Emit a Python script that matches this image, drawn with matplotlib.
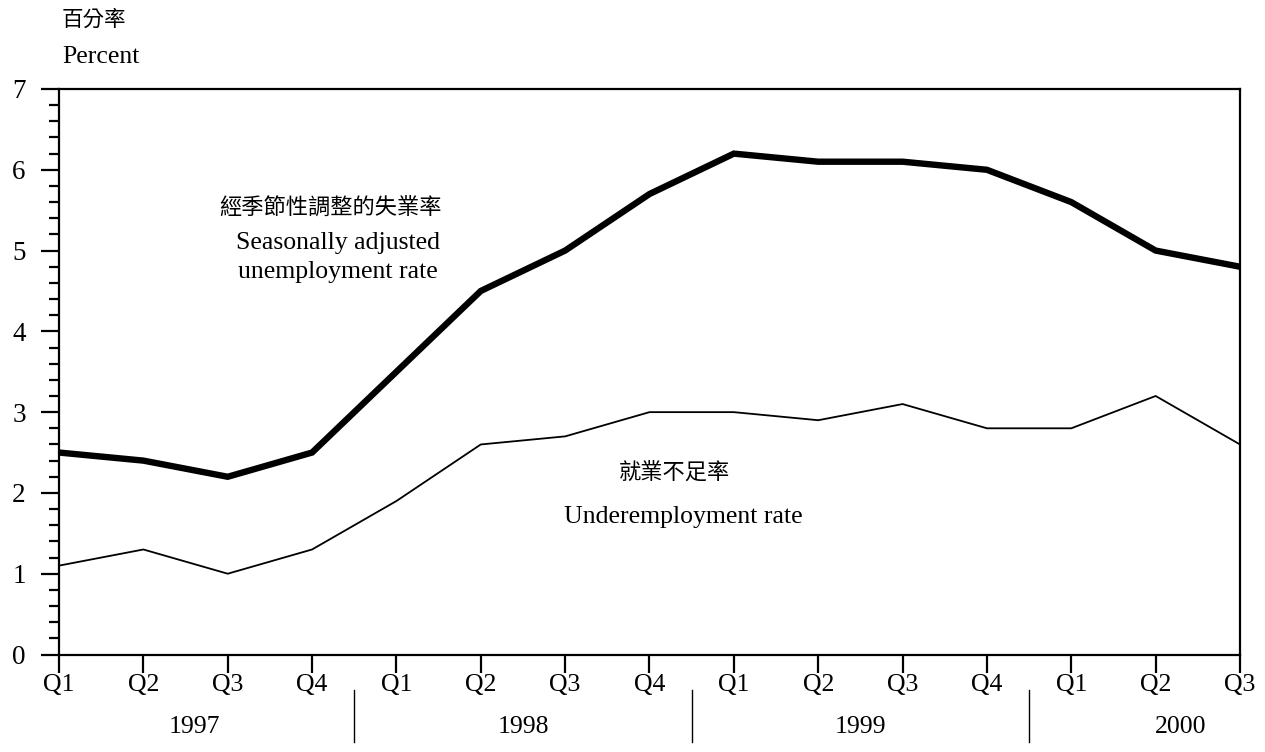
import matplotlib
matplotlib.use('Agg')
import matplotlib.pyplot as plt
from matplotlib.ticker import MultipleLocator, FixedLocator
from matplotlib.transforms import blended_transform_factory
from matplotlib.lines import Line2D

# ---- data ----
quarter_labels = ['Q1', 'Q2', 'Q3', 'Q4', 'Q1', 'Q2', 'Q3', 'Q4',
                  'Q1', 'Q2', 'Q3', 'Q4', 'Q1', 'Q2', 'Q3']
year_labels = ['1997', '1998', '1999', '2000']
unemployment = [2.5, 2.4, 2.2, 2.5, 3.5, 4.5, 5.0, 5.7,
                6.2, 6.1, 6.1, 6.0, 5.6, 5.0, 4.8]
underemployment = [1.1, 1.3, 1.0, 1.3, 1.9, 2.6, 2.7, 3.0,
                   3.0, 2.9, 3.1, 2.8, 2.8, 3.2, 2.6]
y_ticks = [0, 1, 2, 3, 4, 5, 6, 7]

SERIF = ['Liberation Serif', 'DejaVu Serif']
CJK = ['Noto Sans CJK TC', 'DejaVu Sans']

W, H = 1265, 752
fig = plt.figure(figsize=(W / 100, H / 100), dpi=100)
L, R, T, B = 59, 1240, 89, 654.5
ax = fig.add_axes([L / W, 1 - B / H, (R - L) / W, (B - T) / H])

x = list(range(len(quarter_labels)))
ax.plot(x, unemployment, color='black', lw=4.6, solid_joinstyle='miter', zorder=3)
ax.plot(x, underemployment, color='black', lw=1.3, zorder=3)

ax.set_xlim(0, len(quarter_labels) - 1)
ax.set_ylim(0, 7)

for s in ax.spines.values():
    s.set_linewidth(1.6)
    s.set_color('black')

ax.xaxis.set_major_locator(FixedLocator(x))
ax.set_xticklabels(quarter_labels, fontfamily=SERIF, fontsize=18.5)
ax.yaxis.set_major_locator(FixedLocator(y_ticks))
ax.set_yticklabels([str(v) for v in y_ticks], fontfamily=SERIF, fontsize=19.5)
ax.yaxis.set_minor_locator(MultipleLocator(0.2))
ax.tick_params(axis='x', direction='out', length=13, width=1.6, pad=1)
ax.tick_params(axis='y', which='major', direction='out', length=13, width=1.6, pad=11)
ax.tick_params(axis='y', which='minor', direction='out', length=7, width=1.6)

# year labels and separators below the quarter labels
tr = blended_transform_factory(ax.transData, fig.transFigure)
year_pos = [1.6, 5.5, 9.5, 13.3]
for yl, xp in zip(year_labels, year_pos):
    ax.text(xp, 1 - 727 / H, yl, transform=tr, ha='center', va='center',
            fontfamily=SERIF, fontsize=18.5)
for xp in [3.5, 7.5, 11.5]:
    ax.add_line(Line2D([xp, xp], [1 - 690 / H, 1 - 742 / H], transform=tr,
                       color='black', lw=1.0, clip_on=False))

# axis titles
fig.text(62 / W, 1 - 20 / H, '百分率', fontfamily=CJK, fontsize=15.5,
         ha='left', va='center')
fig.text(62 / W, 1 - 57 / H, 'Percent', fontfamily=SERIF, fontsize=18.5,
         ha='left', va='center')

# series annotations
fig.text(330 / W, 1 - 208 / H, '經季節性調整的失業率', fontfamily=CJK, fontsize=16,
         ha='center', va='center')
fig.text(338 / W, 1 - 243 / H, 'Seasonally adjusted', fontfamily=SERIF,
         fontsize=18.5, ha='center', va='center')
fig.text(338 / W, 1 - 272 / H, 'unemployment rate', fontfamily=SERIF,
         fontsize=18.5, ha='center', va='center')
fig.text(675 / W, 1 - 473 / H, '就業不足率', fontfamily=CJK, fontsize=16,
         ha='center', va='center')
fig.text(683 / W, 1 - 517 / H, 'Underemployment rate', fontfamily=SERIF,
         fontsize=18.5, ha='center', va='center')

fig.savefig('out.png', dpi=100)
